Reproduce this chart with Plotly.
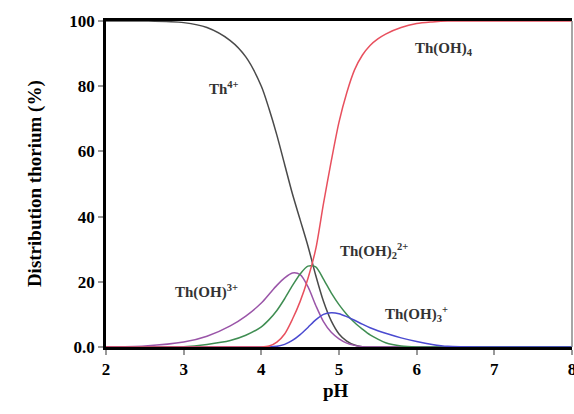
import plotly.graph_objects as go

pH = [2.0, 2.5, 3.0, 3.3, 3.6, 3.8, 4.0, 4.1, 4.2, 4.3, 4.4, 4.5, 4.6, 4.7, 4.8, 4.9,
      5.0, 5.1, 5.2, 5.3, 5.4, 5.5, 5.6, 5.8, 6.0, 6.2, 6.4, 7.0, 8.0]
th4 = [100, 100, 99.5, 98, 94, 89, 80, 73, 65, 56, 47, 39, 31, 22, 14, 8,
       4, 1.8, 0.6, 0.1, 0, 0, 0, 0, 0, 0, 0, 0, 0]
thoh = [0, 0.3, 1.5, 3.3, 6.5, 9.5, 13.5, 16.2, 18.9, 21.2, 22.7, 22.2, 18.5, 12.8, 7.8, 4.5,
        2.5, 1.2, 0.5, 0.1, 0, 0, 0, 0, 0, 0, 0, 0, 0]
thoh2 = [0, 0, 0.1, 0.8, 2, 3.6, 6.2, 8.4, 11.2, 14.8, 18.8, 22.4, 24.8, 24.6, 20.8, 16.6,
         13, 10, 7.5, 5.5, 3.7, 2.4, 1.3, 0.3, 0, 0, 0, 0, 0]
thoh3 = [0, 0, 0, 0, 0, 0, 0, 0, 0.2, 0.8, 2, 3.8, 6, 8.3, 10, 10.5,
         10.2, 9.3, 8.2, 7, 5.9, 5, 4.2, 2.8, 1.7, 0.8, 0.2, 0, 0]
thoh4 = [0, 0, 0, 0, 0, 0, 0, 0.3, 1.5, 4, 8.5, 14, 21, 30, 44, 57,
         69, 78, 85, 89.5, 92.5, 94.5, 96, 98, 99.2, 99.7, 100, 100, 100]

x_ticks = [2, 3, 4, 5, 6, 7, 8]
y_ticks = [0, 20, 40, 60, 80, 100]
y_ticktext = ["0.0", "20", "40", "60", "80", "100"]

series = [
    (th4, "#4a4a4a", "Th<sup>4+</sup>"),
    (thoh, "#9a55a8", "Th(OH)<sup>3+</sup>"),
    (thoh2, "#3f8d52", "Th(OH)<sub>2</sub><sup>2+</sup>"),
    (thoh3, "#4a4ad0", "Th(OH)<sub>3</sub><sup>+</sup>"),
    (thoh4, "#e8505e", "Th(OH)<sub>4</sub>"),
]

fig = go.Figure()
for ys, col, name in series:
    fig.add_trace(go.Scatter(x=pH, y=ys, mode="lines", name=name,
                             line=dict(color=col, width=1.5, shape="spline", smoothing=0.8),
                             showlegend=False, hoverinfo="skip"))

ann_font = dict(family="Liberation Serif", size=15, color="#333333")
labels = [
    (3.52, 79.5, "<b>Th<sup>4+</sup></b>"),
    (6.35, 91.5, "<b>Th(OH)<sub>4</sub></b>"),
    (3.3, 17, "<b>Th(OH)<sup>3+</sup></b>"),
    (5.45, 29.5, "<b>Th(OH)<sub>2</sub><sup>2+</sup></b>"),
    (6.0, 10, "<b>Th(OH)<sub>3</sub><sup>+</sup></b>"),
]
for x, y, t in labels:
    fig.add_annotation(x=x, y=y, text=t, showarrow=False, font=ann_font)

# axis titles
fig.add_annotation(x=-0.180, y=0.5, xref="paper", yref="paper", textangle=-90,
                   text="<b>Distribution thorium (%)</b>", showarrow=False,
                   font=dict(family="Liberation Serif", size=19, color="black"))
fig.add_annotation(x=0.4936, y=-0.172, xref="paper", yref="paper",
                   text="<b>pH</b>", showarrow=False,
                   font=dict(family="Liberation Serif", size=19, color="black"))

fig.add_shape(type="line", x0=1, x1=1, y0=0, y1=1, xref="paper", yref="paper",
              line=dict(color="#888888", width=1.5))

font = dict(family="Liberation Serif", size=17, color="black")
fig.update_layout(
    width=574, height=414,
    margin=dict(l=106, r=2, t=21, b=67, autoexpand=False),
    paper_bgcolor="white", plot_bgcolor="white",
    font=font,
    xaxis=dict(range=[2, 8], tickvals=x_ticks, ticktext=[f"<b>{v}</b>" for v in x_ticks],
               showgrid=False, zeroline=False, showline=True, linecolor="black",
               linewidth=2.5, mirror=True, ticks="outside", ticklen=5, tickwidth=2,
               tickcolor="#999999", automargin=False, ticklabeloverflow="allow"),
    yaxis=dict(range=[0, 100], tickvals=y_ticks, ticktext=[f"<b>{t}</b>" for t in y_ticktext],
               showgrid=False, zeroline=False, showline=True, linecolor="black",
               linewidth=2.5, ticks="outside", ticklen=5, tickwidth=2, tickcolor="#999999",
               automargin=False),
)

fig.write_html("out.html", config={"displayModeBar": False},
               post_script="document.body.style.margin='0';document.body.style.overflow='hidden';")
